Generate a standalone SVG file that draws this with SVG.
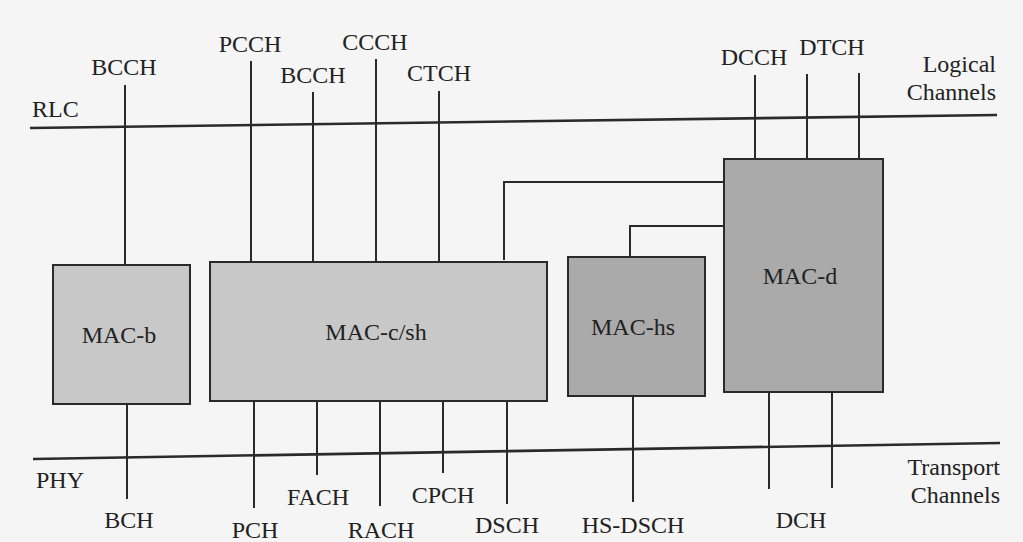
<svg xmlns="http://www.w3.org/2000/svg" width="1023" height="542" viewBox="0 0 1023 542" font-family="'Liberation Serif', 'DejaVu Serif', serif" font-size="24" fill="#222">
<style>
.m{text-anchor:middle;}
.e{text-anchor:end;}
.ln{stroke:#2a2a2a;stroke-width:2;fill:none;}
.bus{stroke:#2a2a2a;stroke-width:2.6;fill:none;}
.lt{fill:#c8c8c8;stroke:#2a2a2a;stroke-width:2;}
.dk{fill:#aaaaaa;stroke:#2a2a2a;stroke-width:2;}
</style>
<rect width="1023" height="542" fill="#f5f5f5"/>
<g id="layers">
<line class="bus" x1="30" y1="128" x2="997" y2="115"/>
<line class="bus" x1="33" y1="459" x2="1000" y2="443"/>
<text x="32" y="117">RLC</text>
<text x="36" y="488">PHY</text>
<text class="e" x="996" y="72">Logical</text>
<text class="e" x="996" y="100">Channels</text>
<text class="e" x="1000" y="475">Transport</text>
<text class="e" x="1000" y="503">Channels</text>
</g>
<g id="connectors">
<path class="ln" d="M125 85V265"/>
<path class="ln" d="M251 61V263"/>
<path class="ln" d="M313 92V263"/>
<path class="ln" d="M376 59V262"/>
<path class="ln" d="M439 91V261"/>
<path class="ln" d="M504 260V182H724"/>
<path class="ln" d="M630 257V226H724"/>
<path class="ln" d="M755 75V159"/>
<path class="ln" d="M807 74V158"/>
<path class="ln" d="M859 73V158"/>
<path class="ln" d="M127 405V499"/>
<path class="ln" d="M254 401V508"/>
<path class="ln" d="M317 400V475"/>
<path class="ln" d="M380 399V506"/>
<path class="ln" d="M443 398V473"/>
<path class="ln" d="M507 397V504"/>
<path class="ln" d="M633 396V502"/>
<path class="ln" d="M769 393V489"/>
<path class="ln" d="M832 392V488"/>
</g>
<g id="labels">
<text class="m" x="124" y="75">BCCH</text>
<text class="m" x="250" y="52">PCCH</text>
<text class="m" x="313" y="83">BCCH</text>
<text class="m" x="375" y="50">CCCH</text>
<text class="m" x="439" y="81">CTCH</text>
<text class="m" x="754" y="65">DCCH</text>
<text class="m" x="832" y="55">DTCH</text>
<text class="m" x="129" y="528">BCH</text>
<text class="m" x="255" y="538">PCH</text>
<text class="m" x="318" y="505">FACH</text>
<text class="m" x="381" y="538">RACH</text>
<text class="m" x="443" y="503">CPCH</text>
<text class="m" x="507" y="533">DSCH</text>
<text class="m" x="633" y="533">HS-DSCH</text>
<text class="m" x="801" y="528">DCH</text>
</g>
<g id="mac-b">
<rect class="lt" x="53" y="265" width="137" height="139"/>
<text class="m" x="119" y="343">MAC-b</text>
</g>
<g id="mac-csh">
<rect class="lt" x="210" y="262" width="337" height="139"/>
<text class="m" x="376" y="340">MAC-c/sh</text>
</g>
<g id="mac-hs">
<rect class="dk" x="568" y="257" width="137" height="139"/>
<text class="m" x="633" y="335">MAC-hs</text>
</g>
<g id="mac-d">
<rect class="dk" x="724" y="159" width="159" height="233"/>
<text class="m" x="800" y="284">MAC-d</text>
</g>
</svg>
